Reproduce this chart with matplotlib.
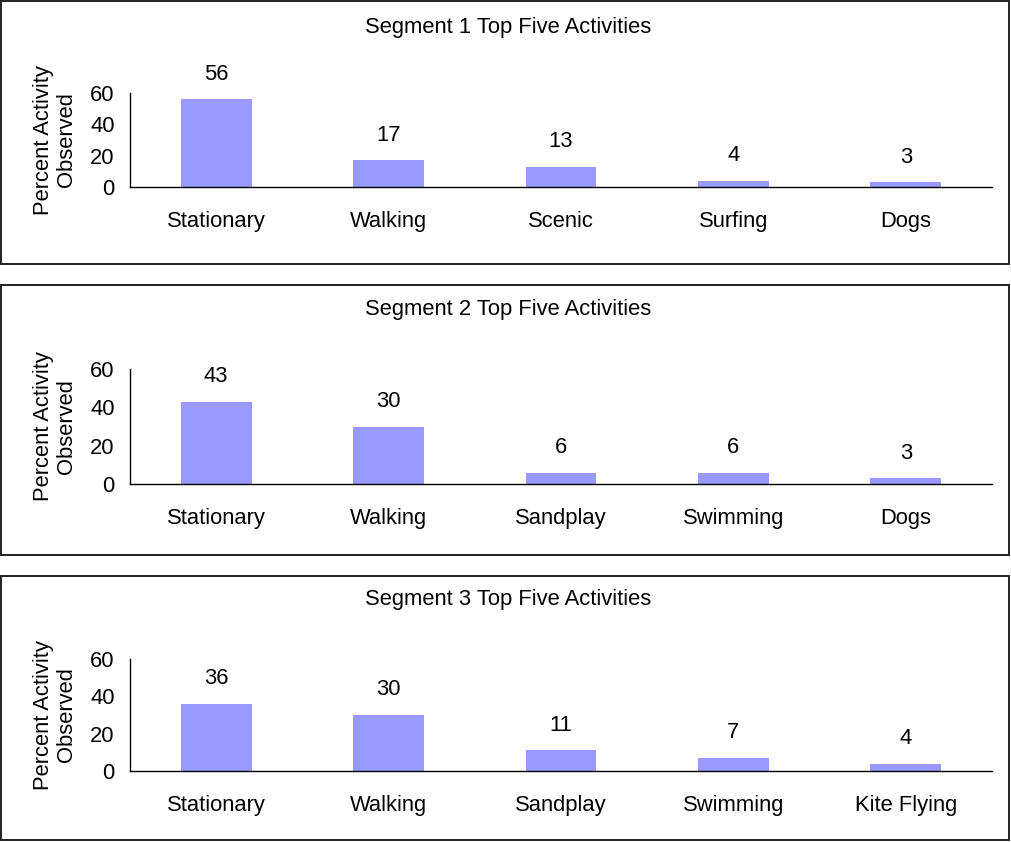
import matplotlib
matplotlib.use("Agg")
import matplotlib.pyplot as plt
from matplotlib.patches import Rectangle

plt.rcParams['font.family'] = ['Liberation Sans', 'DejaVu Sans']

titles = ["Segment 1 Top Five Activities",
          "Segment 2 Top Five Activities",
          "Segment 3 Top Five Activities"]
cats1 = ["Stationary", "Walking", "Scenic", "Surfing", "Dogs"]
vals1 = [56, 17, 13, 4, 3]
cats2 = ["Stationary", "Walking", "Sandplay", "Swimming", "Dogs"]
vals2 = [43, 30, 6, 6, 3]
cats3 = ["Stationary", "Walking", "Sandplay", "Swimming", "Kite Flying"]
vals3 = [36, 30, 11, 7, 4]
yticks = [0, 20, 40, 60]

W, H = 1011, 842
fig = plt.figure(figsize=(W / 100, H / 100), dpi=100)
fs = 15.8
bar_color = "#9999FF"

# pixel layout: (panel top, panel bottom, axes top, axes bottom, title y)
layout = [(1, 264, 93, 187, 27),
          (285, 555, 369, 484, 309),
          (576, 840, 659, 771, 599)]
data = [(cats1, vals1), (cats2, vals2), (cats3, vals3)]

for (ptop, pbot, atop, abot, ty), (cats, vals), title in zip(layout, data, titles):
    # panel border
    fig.patches.append(Rectangle((1 / W, 1 - pbot / H), 1008 / W, (pbot - ptop) / H,
                                 transform=fig.transFigure, fill=False,
                                 edgecolor="#222222", linewidth=1.4))
    ax = fig.add_axes([130 / W, 1 - abot / H, 862 / W, (abot - atop) / H])
    x = range(len(cats))
    bars = ax.bar(x, vals, width=0.41, color=bar_color)
    ax.bar_label(bars, labels=[str(v) for v in vals], padding=10.5, fontsize=fs)
    ax.set_xlim(-0.5, 4.5)
    ax.set_ylim(0, 60)
    ax.set_yticks(yticks)
    ax.set_xticks(list(x))
    ax.set_xticklabels(cats)
    ax.tick_params(axis='x', length=0, pad=17.5, labelsize=fs)
    ax.tick_params(axis='y', length=0, pad=11, labelsize=fs)
    for s in ["top", "right"]:
        ax.spines[s].set_visible(False)
    ax.spines["left"].set_linewidth(1.0)
    ax.spines["bottom"].set_linewidth(1.0)
    fig.text(508 / W, 1 - ty / H, title, ha='center', va='center', fontsize=fs)
    fig.text(55 / W, 1 - (atop + abot) / 2 / H, "Percent Activity\nObserved",
             rotation=90, ha='center', va='center', multialignment='center',
             fontsize=fs, linespacing=1.15)

fig.savefig("out.png", dpi=100)
